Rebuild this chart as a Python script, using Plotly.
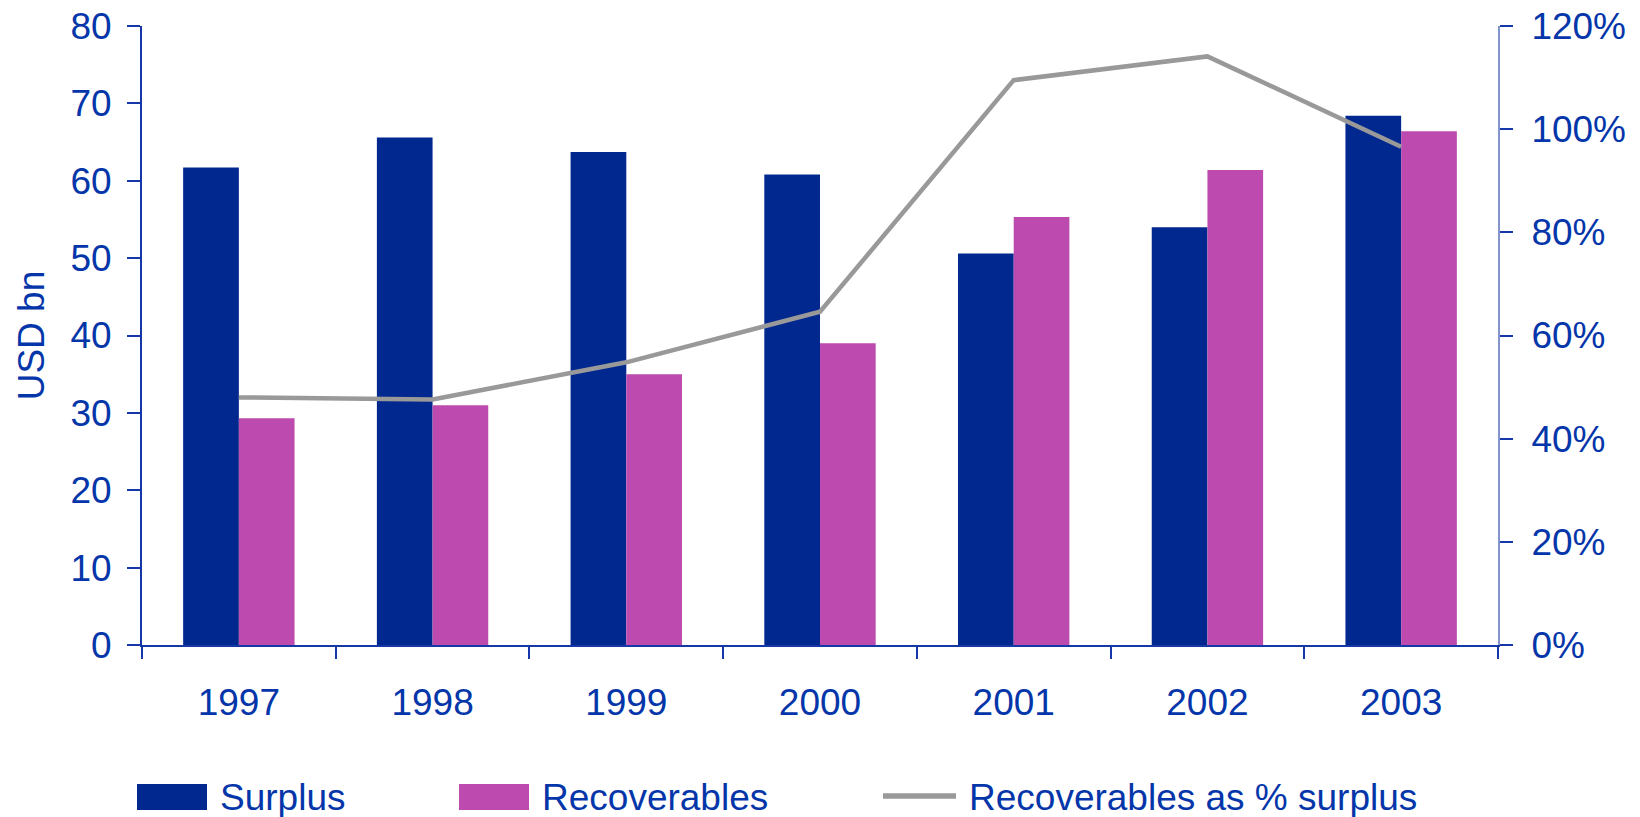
import plotly.graph_objects as go

years = ["1997", "1998", "1999", "2000", "2001", "2002", "2003"]
surplus = [61.7, 65.6, 63.7, 60.8, 50.6, 54.0, 68.4]
recoverables = [29.3, 31.0, 35.0, 39.0, 55.3, 61.4, 66.4]
rec_pct_surplus = [48.0, 47.6, 54.8, 64.6, 109.5, 114.1, 96.6]

left_ticks = [0, 10, 20, 30, 40, 50, 60, 70, 80]
right_ticks = [0, 20, 40, 60, 80, 100, 120]
right_labels = [f"{v}%" for v in right_ticks]

NAVY = "#00288F"
MAGENTA = "#BC4AAF"
GREY = "#999999"
TXT = "#0436AA"
FONT = "Liberation Sans, Arial, sans-serif"
FS = 37

W, H = 1640, 817
ML, MR, MT, MB = 142, 142, 26, 172
PW, PH = W - ML - MR, H - MT - MB

fig = go.Figure()
fig.add_trace(go.Bar(x=years, y=surplus, name="Surplus", marker_color=NAVY,
                     marker_line_width=0))
fig.add_trace(go.Bar(x=years, y=recoverables, name="Recoverables",
                     marker_color=MAGENTA, marker_line_width=0))
fig.add_trace(go.Scatter(x=years, y=rec_pct_surplus, name="Recoverables as % surplus",
                         mode="lines", line=dict(color=GREY, width=4.5),
                         yaxis="y2"))


def px_x(px):
    return (px - ML) / PW


def px_y(py):
    return (H - MB - py) / PH


shapes = []
annotations = []
legend_items = [
    ("rect", NAVY, 137, 207, "Surplus", 218),
    ("rect", MAGENTA, 459, 529, "Recoverables", 540),
    ("line", GREY, 883, 956, "Recoverables as % surplus", 967),
]
for kind, col, x0, x1, label, tx in legend_items:
    if kind == "rect":
        shapes.append(dict(type="rect", xref="paper", yref="paper",
                           x0=px_x(x0), x1=px_x(x1), y0=px_y(810), y1=px_y(784),
                           fillcolor=col, line=dict(width=0)))
    else:
        shapes.append(dict(type="line", xref="paper", yref="paper",
                           x0=px_x(x0), x1=px_x(x1), y0=px_y(796), y1=px_y(796),
                           line=dict(color=col, width=5.5)))
    annotations.append(dict(xref="paper", yref="paper", x=px_x(tx), y=px_y(797),
                            xanchor="left", yanchor="middle", showarrow=False,
                            text=label, font=dict(family=FONT, size=FS, color=TXT)))

fig.update_layout(
    width=W, height=H,
    margin=dict(l=ML, r=MR, t=MT, b=MB, pad=0),
    paper_bgcolor="white", plot_bgcolor="white",
    barmode="group", bargap=0.425, bargroupgap=0,
    showlegend=False,
    font=dict(family=FONT, size=FS, color=TXT),
    xaxis=dict(
        type="category", showgrid=False, zeroline=False,
        showline=True, linecolor="#1537A8", linewidth=2,
        ticks="outside", tickson="boundaries", ticklen=12, tickwidth=2,
        tickcolor="#1537A8", ticklabelstandoff=24,
        tickfont=dict(family=FONT, size=FS, color=TXT),
    ),
    yaxis=dict(
        range=[0, 80], tickvals=left_ticks, showgrid=False, zeroline=False,
        showline=True, linecolor="#1537A8", linewidth=2,
        ticks="outside", ticklen=13, tickwidth=2, tickcolor="#1537A8",
        ticklabelstandoff=8,
        tickfont=dict(family=FONT, size=FS, color=TXT),
        title=dict(text="USD bn", font=dict(family=FONT, size=FS, color=TXT),
                   standoff=14),
        automargin=False,
    ),
    yaxis2=dict(
        range=[0, 120], tickvals=right_ticks, ticktext=right_labels,
        overlaying="y", side="right", showgrid=False, zeroline=False,
        showline=True, linecolor="#8494CC", linewidth=2,
        ticks="outside", ticklen=13, tickwidth=1.5, tickcolor="#1537A8",
        ticklabelstandoff=11,
        tickfont=dict(family=FONT, size=FS, color=TXT),
        automargin=False,
    ),
    shapes=shapes,
    annotations=annotations,
)

fig.write_html("out.html")
